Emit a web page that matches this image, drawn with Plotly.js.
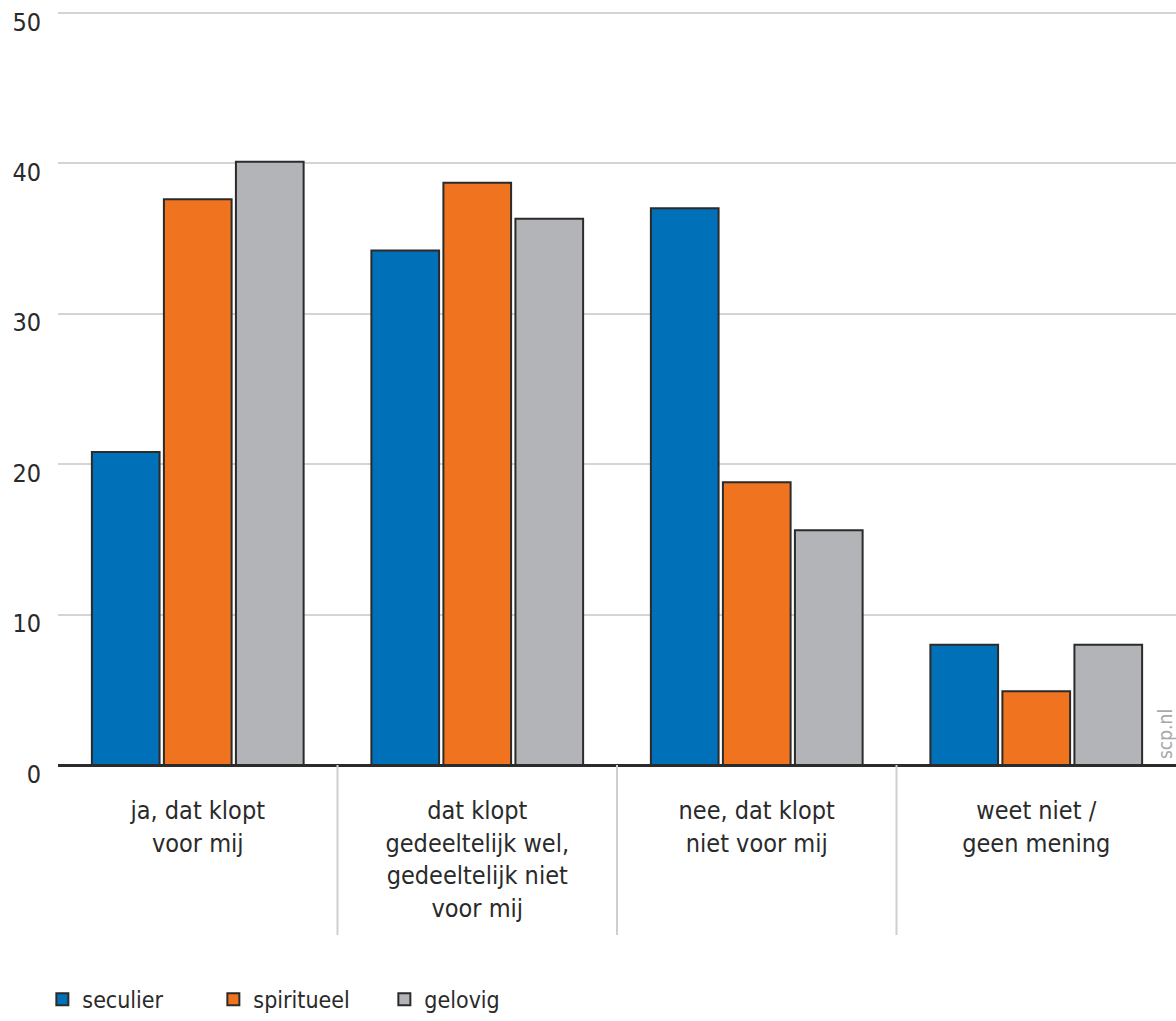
<!DOCTYPE html>
<html>
<head>
<meta charset="utf-8">
<script src="https://cdn.plot.ly/plotly-3.0.1.min.js"></script>
<style>html,body{margin:0;padding:0;background:#fff}#chart{width:1176px;height:1021px}</style>
</head>
<body>
<div id="chart"></div>
<script>
const categories = [
  "ja, dat klopt<br>voor mij",
  "dat klopt<br>gedeeltelijk wel,<br>gedeeltelijk niet<br>voor mij",
  "nee, dat klopt<br>niet voor mij",
  "weet niet /<br>geen mening"
];
const seriesNames = ["seculier", "spiritueel", "gelovig"];
const seculier = [20.8, 34.2, 37.0, 8.0];
const spiritueel = [37.6, 38.7, 18.8, 4.9];
const gelovig = [40.1, 36.3, 15.6, 8.0];
const colors = ["#0070b8", "#f07320", "#b3b4b8"];
const yTicks = [0, 10, 20, 30, 40, 50];

const FONT = '"Liberation Sans Narrow", "DejaVu Sans Condensed", "Roboto", sans-serif';
const values = [seculier, spiritueel, gelovig];
const traces = values.map((v, i) => ({
  type: 'bar',
  name: seriesNames[i],
  x: categories,
  y: v,
  marker: {color: colors[i], line: {color: '#2b2b2b', width: 2}},
  hoverinfo: 'x+y'
}));

const shapes = [0.5, 1.5, 2.5].map(xp => ({
  type: 'line', xref: 'x', yref: 'paper',
  x0: xp, x1: xp, y0: 0, y1: -0.225,
  line: {color: '#cfcfcf', width: 2}
}));

const layout = {
  width: 1176, height: 1021,
  margin: {l: 58, r: 0, t: 9, b: 256},
  paper_bgcolor: '#fff', plot_bgcolor: '#fff',
  font: {family: FONT, color: '#2a2a2a', size: 25},
  barmode: 'group',
  bargap: 0.227,
  bargroupgap: 0.06,
  showlegend: true,
  legend: {
    orientation: 'h', x: -0.014, xanchor: 'left', y: -0.31, yanchor: 'middle',
    font: {size: 23, family: FONT, color: '#2a2a2a'},
    itemwidth: 30, traceorder: 'normal',
    entrywidth: 126, entrywidthmode: 'pixels'
  },
  xaxis: {
    type: 'category',
    tickfont: {size: 25, family: FONT, color: '#2a2a2a'},
    ticks: '', showgrid: false, zeroline: false,
    showline: true, linecolor: '#2b2b2b', linewidth: 2,
    ticklabelstandoff: 22
  },
  yaxis: {
    range: [0, 50.25],
    tickvals: yTicks,
    ticktext: yTicks.map(String),
    tickfont: {size: 25, family: FONT, color: '#2a2a2a'},
    showgrid: true, gridcolor: '#d4d4d4', gridwidth: 2,
    zeroline: true, zerolinecolor: '#2b2b2b', zerolinewidth: 2,
    ticks: '', showline: false,
    ticklabelstandoff: 16,
    ticklabelshift: 9
  },
  shapes: shapes,
  annotations: [{
    text: 'scp.nl', xref: 'paper', yref: 'paper', x: 0.99, y: 0.005,
    xanchor: 'center', yanchor: 'bottom', textangle: -90, showarrow: false,
    font: {size: 19, family: FONT, color: '#a8a8a8'}
  }]
};

Plotly.newPlot('chart', traces, layout, {displayModeBar: false, staticPlot: true});
</script>
</body>
</html>
